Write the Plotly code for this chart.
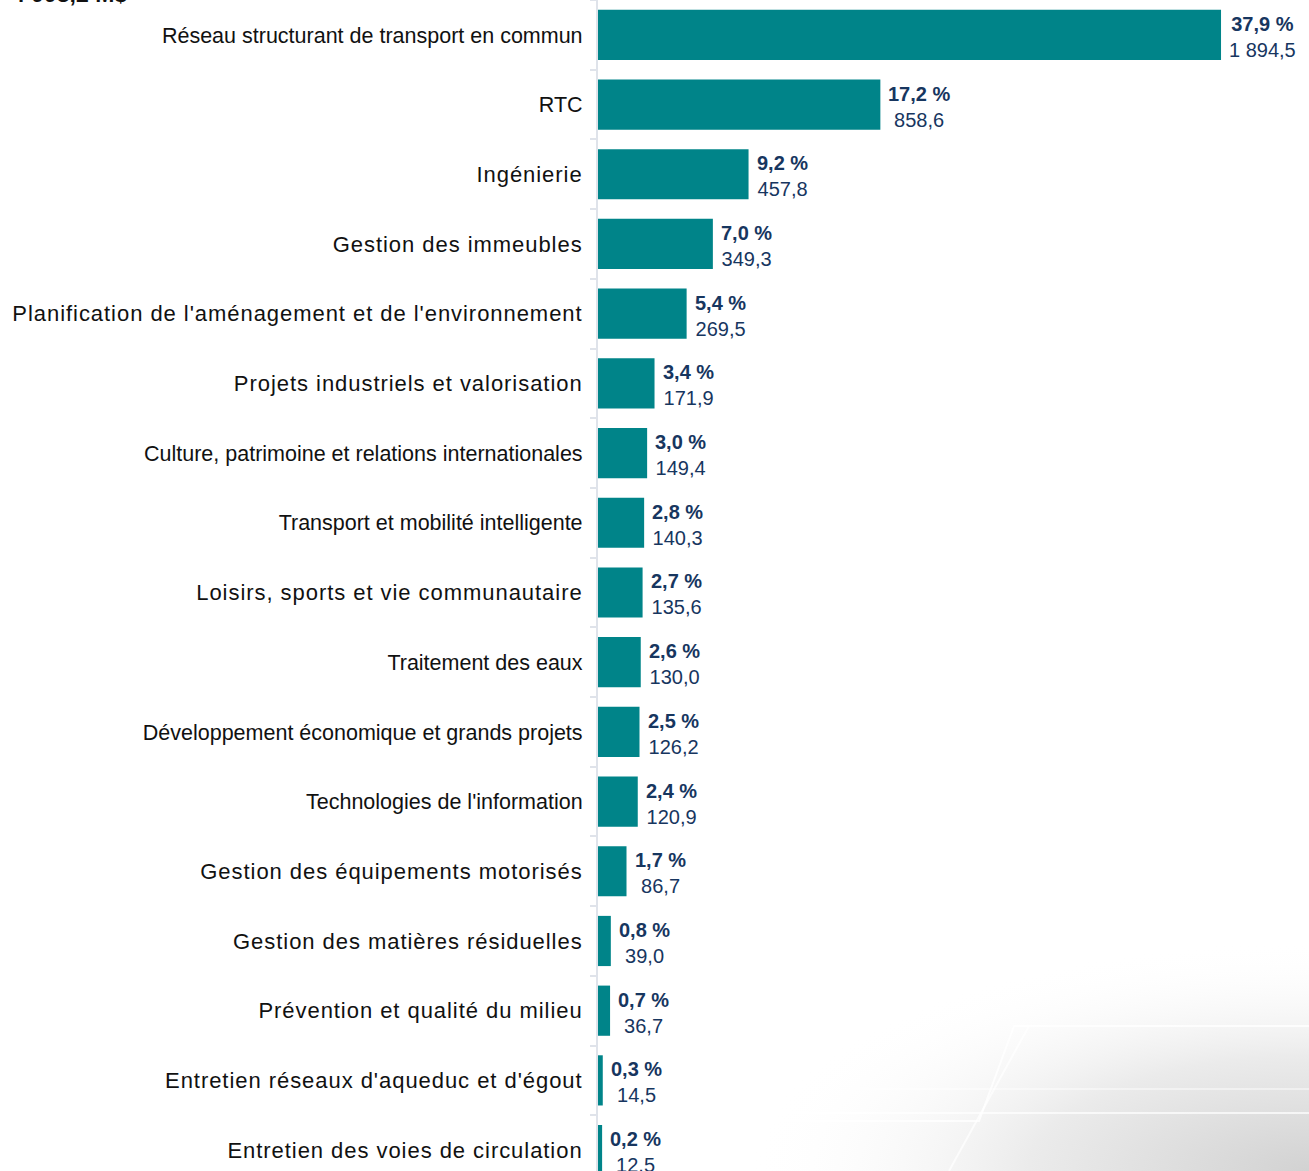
import plotly.graph_objects as go
import urllib.parse

# ---- data ----
categories = [
    "Réseau structurant de transport en commun",
    "RTC",
    "Ingénierie",
    "Gestion des immeubles",
    "Planification de l'aménagement et de l'environnement",
    "Projets industriels et valorisation",
    "Culture, patrimoine et relations internationales",
    "Transport et mobilité intelligente",
    "Loisirs, sports et vie communautaire",
    "Traitement des eaux",
    "Développement économique et grands projets",
    "Technologies de l'information",
    "Gestion des équipements motorisés",
    "Gestion des matières résiduelles",
    "Prévention et qualité du milieu",
    "Entretien réseaux d'aqueduc et d'égout",
    "Entretien des voies de circulation",
]
values = [1894.5, 858.6, 457.8, 349.3, 269.5, 171.9, 149.4, 140.3, 135.6,
          130.0, 126.2, 120.9, 86.7, 39.0, 36.7, 14.5, 12.5]
percents = [37.9, 17.2, 9.2, 7.0, 5.4, 3.4, 3.0, 2.8, 2.7, 2.6, 2.5, 2.4,
            1.7, 0.8, 0.7, 0.3, 0.2]
total_label = "4 998,2 M$"

# labels rendered with wider letter spacing in the original
spaced = {
    "Ingénierie", "Gestion des immeubles",
    "Planification de l'aménagement et de l'environnement",
    "Projets industriels et valorisation",
    "Loisirs, sports et vie communautaire",
    "Gestion des équipements motorisés",
    "Gestion des matières résiduelles",
    "Prévention et qualité du milieu",
    "Entretien réseaux d'aqueduc et d'égout",
    "Entretien des voies de circulation",
}


def fr(v):
    return f"{v:,.1f}".replace(",", " ").replace(".", ",")


ticktext = [
    (f'<span style="letter-spacing:0.95px">{c}</span>' if c in spaced
     else f'<span style="font-size:21.5px">{c}</span>')
    for c in categories
]

W, H = 1309, 1171
ML = 598
BAR = "#008489"
NAVY = "#17365f"

fig = go.Figure()
fig.add_trace(go.Bar(
    x=values, y=categories, orientation="h",
    marker=dict(color=BAR, line=dict(width=0)),
    width=0.72, hoverinfo="skip",
))

for c, v, p in zip(categories, values, percents):
    fig.add_annotation(
        x=v, y=c, xref="x", yref="y",
        text=f"<b>{fr(p)} %</b><br>{fr(v)}",
        showarrow=False, xanchor="left", yanchor="middle", align="center",
        xshift=6, yshift=-2,
        font=dict(family="Liberation Sans, Arial", size=20, color=NAVY),
    )

# cut-off total at top-left
fig.add_annotation(
    x=(10 - ML) / (W - ML), y=1, xref="paper", yref="paper",
    text=f"<b>{total_label}</b>", showarrow=False, xanchor="left", yanchor="bottom",
    yshift=-9, font=dict(family="Liberation Sans, Arial", size=23, color="#111111"),
)

# background decoration (bottom-right soft gradient)
svg = (
    "<svg xmlns='http://www.w3.org/2000/svg' width='560' height='230' viewBox='0 0 560 230' preserveAspectRatio='none'>"
    "<defs><radialGradient id='g' cx='1' cy='1' r='1'>"
    "<stop offset='0' stop-color='#d2d2d2'/><stop offset='0.5' stop-color='#ebebeb'/>"
    "<stop offset='1' stop-color='#ffffff' stop-opacity='0'/></radialGradient></defs>"
    "<rect width='560' height='230' fill='url(#g)'/>"
    "<path d='M0 180 L230 180 L265 85 L560 85' stroke='white' stroke-width='2' fill='none' opacity='0.8'/>"
    "<path d='M0 172 L560 172' stroke='white' stroke-width='2' fill='none' opacity='0.7'/>"
    "<path d='M0 148 L560 148' stroke='white' stroke-width='1.5' fill='none' opacity='0.6'/>"
    "<path d='M200 230 L280 85' stroke='white' stroke-width='2' fill='none' opacity='0.7'/>"
    "</svg>"
)
src = "data:image/svg+xml;charset=utf-8," + urllib.parse.quote(svg)
fig.add_layout_image(
    source=src, xref="paper", yref="paper",
    x=(749 - ML) / (W - ML), y=230 / H, sizex=(W - 749) / (W - ML), sizey=230 / H,
    xanchor="left", yanchor="top", sizing="stretch", layer="below", opacity=1,
)

fig.update_layout(
    width=W, height=H,
    margin=dict(l=ML, r=0, t=0, b=0, pad=0),
    paper_bgcolor="white", plot_bgcolor="rgba(0,0,0,0)",
    showlegend=False,
    font=dict(family="Liberation Sans, Arial", color="#111111"),
    xaxis=dict(range=[0, 2162], visible=False, fixedrange=True),
    yaxis=dict(
        type="category", categoryorder="array", categoryarray=categories,
        tickmode="array", tickvals=categories, ticktext=ticktext,
        range=[16.3, -0.5], autorange=False,
        showline=True, linecolor="#dfe3ea", linewidth=2,
        ticks="outside", tickson="boundaries", ticklen=6, tickwidth=2, tickcolor="#dfe3ea",
        tickfont=dict(family="Liberation Sans, Arial", size=22, color="#111111"),
        ticklabelstandoff=9, showgrid=False, zeroline=False, fixedrange=True,
    ),
)

fig.write_html("out.html", config={"displayModeBar": False})
